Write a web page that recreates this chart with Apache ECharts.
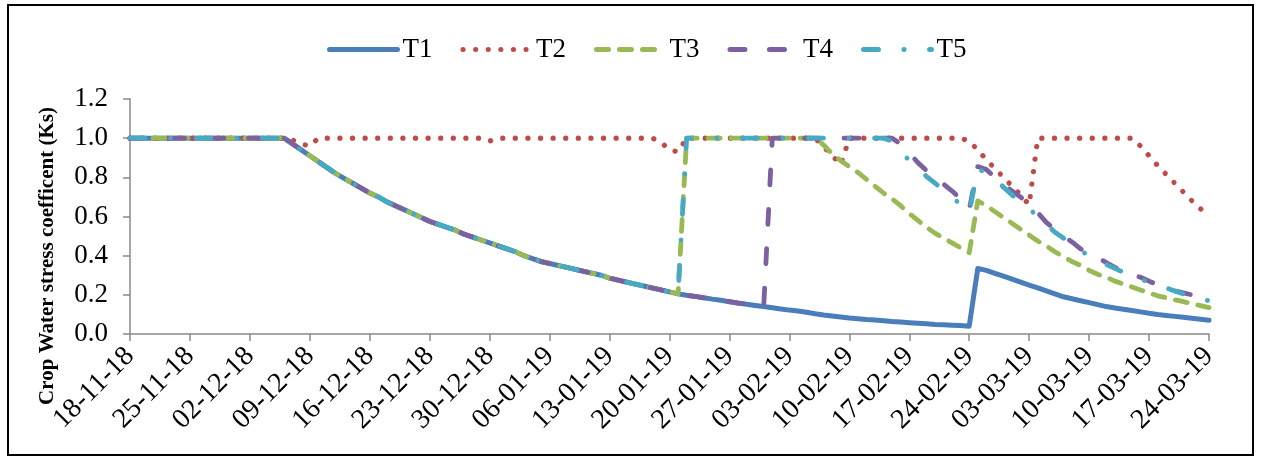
<!DOCTYPE html>
<html>
<head>
<meta charset="utf-8">
<script src="https://cdn.jsdelivr.net/npm/echarts@6/dist/echarts.min.js"></script>
<style>
html,body{margin:0;padding:0;background:#fff;}
#chart{width:1261px;height:458px;}
</style>
</head>
<body>
<div id="chart"></div>
<script>
// ---- DATA (daily values, 18-11-2018 .. 24-03-2019) ----
const startDate = [2018, 10, 18]; // 18 Nov 2018
const dayCount = 127;
const seriesNames = ['T1', 'T2', 'T3', 'T4', 'T5'];
const yTicks = [0, 0.2, 0.4, 0.6, 0.8, 1.0, 1.2];

// common path shared by T1, T3, T4, T5 (days 0..64)
const commonEarly = [
  1,1,1,1,1,1,1,
  1,1,1,1,1,1,1,
  1,1,1,1,1,0.97,0.94,
  0.91,0.88,0.85,0.82,0.795,0.77,0.745,
  0.72,0.70,0.675,0.655,0.635,0.615,0.595,
  0.575,0.56,0.545,0.53,0.51,0.495,0.48,
  0.465,0.45,0.435,0.42,0.40,0.385,0.37,
  0.36,0.35,0.34,0.33,0.32,0.31,0.30,
  0.285,0.275,0.265,0.255,0.245,0.235,0.225,
  0.215,0.205
];
// T1 days 65..126
const t1Late = [
  0.198,0.192,0.185,0.178,0.172,
  0.165,0.158,0.152,0.146,0.140,0.134,0.128,
  0.122,0.117,0.111,0.103,0.097,0.092,0.087,
  0.082,0.078,0.074,0.071,0.068,0.064,0.061,
  0.058,0.055,0.052,0.049,0.047,0.045,0.043,
  0.040,0.335,0.325,0.31,0.295,0.28,0.265,
  0.25,0.235,0.22,0.205,0.19,0.18,0.17,
  0.16,0.15,0.14,0.133,0.126,0.12,0.113,
  0.106,0.10,0.095,0.09,0.085,0.08,0.075,
  0.07
];
// T2 days 0..126
const t2Values = [
  1,1,1,1,1,1,1,
  1,1,1,1,1,1,1,
  1,1,1,1,1,0.99,0.97,
  0.96,1,1,1,1,1,1,
  1,1,1,1,1,1,1,
  1,1,1,1,1,1,1,
  0.985,1,1,1,1,1,1,
  1,1,1,1,1,1,1,
  1,1,1,1,1,1,0.98,
  0.94,0.93,1,1,1,1,1,
  1,1,1,1,1,1,1,
  1,1,1,1,0.955,0.91,0.865,
  1,1,1,1,1,1,1,
  1,1,1,1,1,1,1,
  0.985,0.94,0.89,0.845,0.80,0.755,0.71,
  0.66,1,1,1,1,1,1,
  1,1,1,1,1,1,0.96,
  0.91,0.86,0.815,0.77,0.725,0.68,0.64,
  0.60
];
// T3 days 65..126
const t3Late = [
  1,1,1,1,1,
  1,1,1,1,1,1,1,
  1,1,1,1,0.965,0.92,0.885,
  0.855,0.825,0.79,0.755,0.72,0.69,0.655,
  0.615,0.58,0.545,0.515,0.49,0.465,0.44,
  0.415,0.68,0.655,0.625,0.595,0.565,0.535,
  0.505,0.475,0.45,0.42,0.395,0.37,0.35,
  0.325,0.305,0.29,0.27,0.255,0.24,0.225,
  0.21,0.195,0.185,0.175,0.165,0.155,0.145,
  0.135
];
// T4 follows T1 to day 74, then days 75..126
const t4JumpDay = 75;
const t4Late = [
  1,1,
  1,1,1,1,1,1,1,
  1,1,1,1,1,1,0.97,
  0.925,0.875,0.835,0.80,0.765,0.73,0.69,
  0.635,0.855,0.84,0.80,0.765,0.73,0.70,
  0.66,0.62,0.57,0.535,0.50,0.47,0.435,
  0.41,0.39,0.365,0.34,0.32,0.305,0.29,
  0.27,0.25,0.235,0.22,0.21,0.20,0.19,
  0.175
];
// T5 days 65..126
const t5Late = [
  1,1,1,1,1,
  1,1,1,1,1,1,1,
  1,1,1,1,1,1,1,
  1,1,1,1,1,0.985,0.935,
  0.885,0.845,0.805,0.77,0.735,0.70,0.66,
  0.62,0.845,0.82,0.79,0.75,0.71,0.67,
  0.64,0.60,0.56,0.52,0.49,0.455,0.43,
  0.395,0.375,0.355,0.335,0.315,0.30,0.28,
  0.265,0.25,0.235,0.22,0.205,0.19,0.18,
  0.17
];

// ---- build ----
function pad(n){return (n<10?'0':'')+n;}
const categories = [];
for (let i = 0; i < dayCount; i++) {
  const d = new Date(startDate[0], startDate[1], startDate[2] + i);
  categories.push(pad(d.getDate()) + '-' + pad(d.getMonth()+1) + '-' + String(d.getFullYear()).slice(2));
}
const t1 = commonEarly.concat(t1Late);
const t3 = commonEarly.concat(t3Late);
const t4 = commonEarly.concat(t1Late.slice(0, t4JumpDay - commonEarly.length)).concat(t4Late);
const t5 = commonEarly.concat(t5Late);
const allData = [t1, t2Values, t3, t4, t5];

const colors = ['#4A7EBB', '#BE4B48', '#98B954', '#7D60A0', '#46AAC5'];
const dashes = ['solid', [0.1, 12.5], [12, 11], [15, 24.5], [15, 25.5, 0.1, 25.5]];
const widths = [5, 5.2, 4.8, 4.8, 4.8];
const font = 'Liberation Serif';

const chart = echarts.init(document.getElementById('chart'), null, {renderer: 'canvas'});
chart.setOption({
  animation: false,
  backgroundColor: '#ffffff',
  grid: {left: 130, right: 52, top: 99, bottom: 124, containLabel: false},
  legend: {
    data: seriesNames,
    left: 322, top: 31,
    itemWidth: 68, itemHeight: 14, itemGap: 28,
    textStyle: {fontFamily: font, fontSize: 27, color: '#000'},
    itemStyle: {opacity: 0, borderWidth: 0},
    lineStyle: {width: 5, cap: 'round'}
  },
  graphic: [
    {type: 'rect', shape: {x: 8, y: 5, width: 1245, height: 450},
     style: {fill: 'none', stroke: '#000', lineWidth: 2}, silent: true},
    {type: 'text', x: 48, y: 256, rotation: Math.PI/2,
     style: {text: 'Crop Water stress coefficent (Ks)', fontFamily: font, fontWeight: 'bold',
             fontSize: 21, fill: '#000', textAlign: 'center', textVerticalAlign: 'middle'}}
  ],
  xAxis: {
    type: 'category', data: categories, boundaryGap: false,
    axisLine: {lineStyle: {color: '#898989', width: 1.5}},
    axisTick: {interval: 6, length: 7, lineStyle: {color: '#898989', width: 1.5}},
    axisLabel: {interval: 6, rotate: 45, margin: 18, fontFamily: font, fontSize: 28, color: '#000'},
    splitLine: {show: false}
  },
  yAxis: {
    type: 'value', min: yTicks[0], max: yTicks[yTicks.length-1], interval: 0.2,
    axisLine: {show: true, lineStyle: {color: '#898989', width: 1.5}},
    axisTick: {show: true, length: 7, lineStyle: {color: '#898989', width: 1.5}},
    axisLabel: {margin: 22, fontFamily: font, fontSize: 27, color: '#000',
                formatter: v => v.toFixed(1)},
    splitLine: {show: false}
  },
  series: seriesNames.map((n, i) => ({
    name: n, type: 'line', data: allData[i],
    symbol: 'none', showSymbol: false, smooth: false,
    color: colors[i],
    lineStyle: {color: colors[i], width: widths[i], type: dashes[i], cap: 'round', join: 'round'},
    z: 2 + i
  }))
});
</script>
</body>
</html>
